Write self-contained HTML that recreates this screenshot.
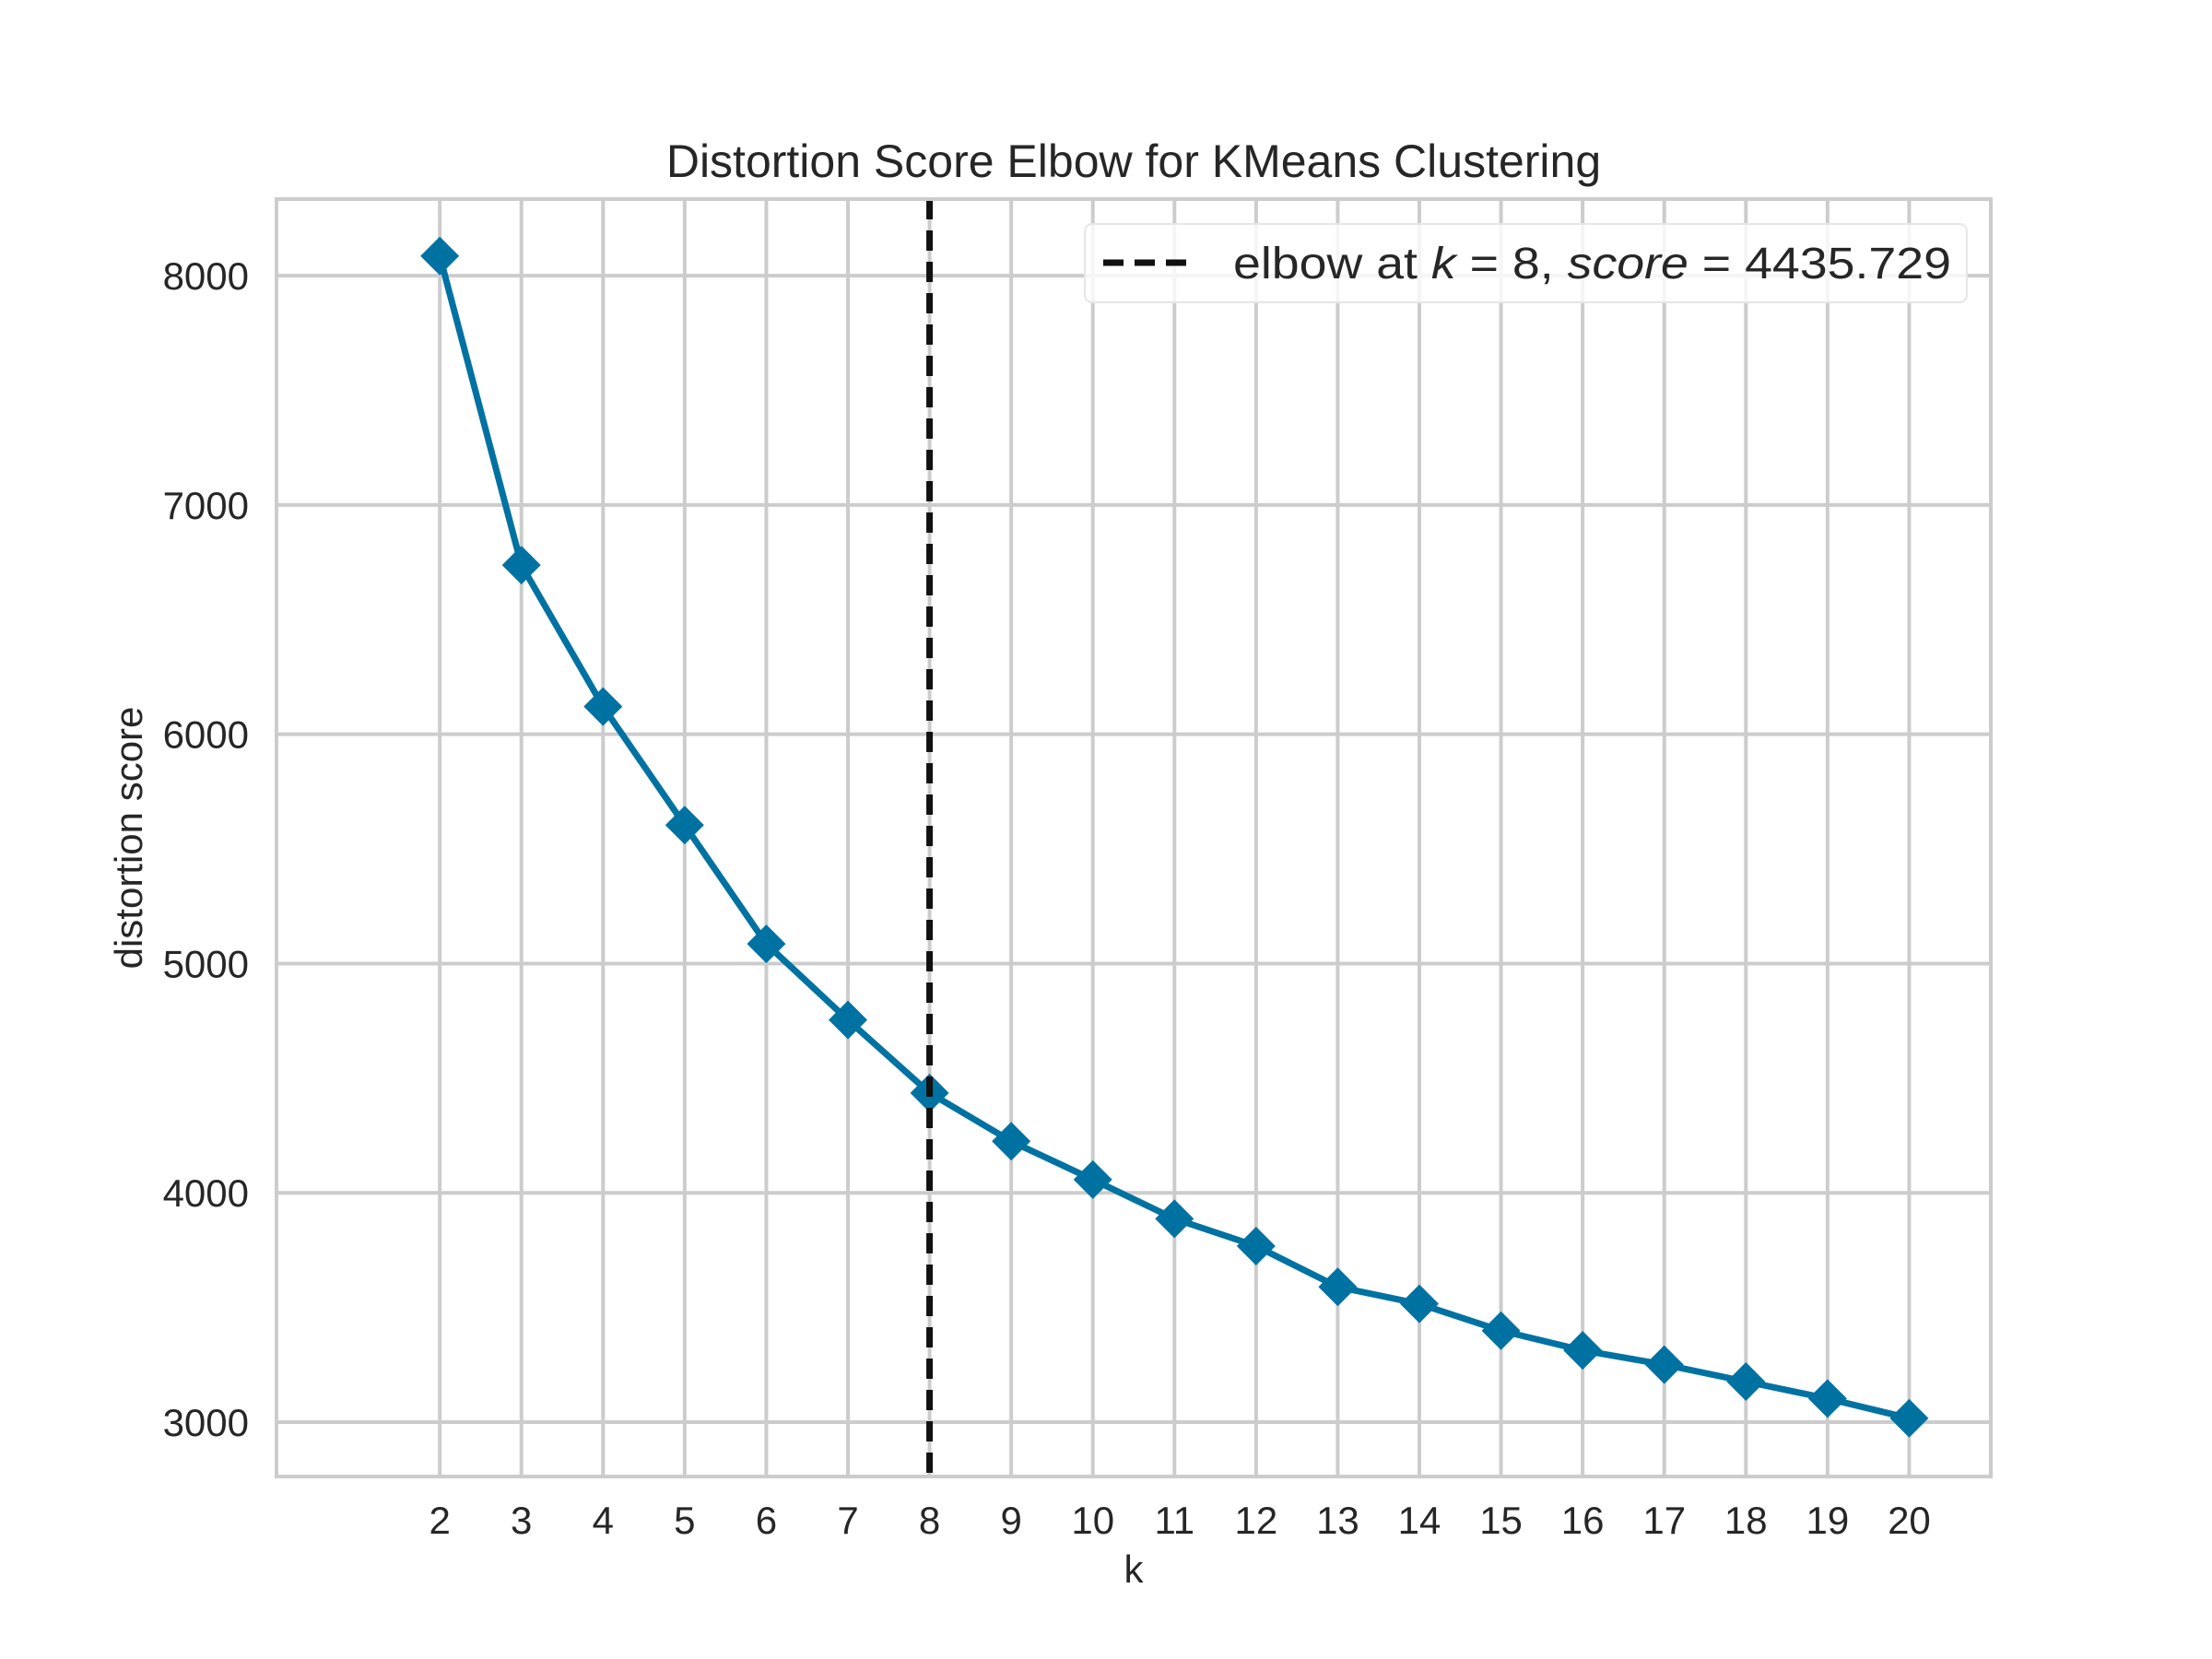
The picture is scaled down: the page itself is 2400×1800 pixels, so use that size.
<!DOCTYPE html>
<html><head><meta charset="utf-8"><style>
html,body{margin:0;padding:0;background:#fff;}
svg{display:block;font-family:"Liberation Sans",Arial,sans-serif;}
</style></head><body>
<svg id="chart" width="2400" height="1800" viewBox="0 0 2400 1800" xmlns="http://www.w3.org/2000/svg">
<rect width="2400" height="1800" fill="#fff"/>
<g id="grid"></g>
<g id="xticks"></g>
<g id="yticks"></g>
<g id="series"></g>
<rect x="300" y="216" width="1860" height="1386" fill="none" stroke="#cccccc" stroke-width="4"/>
<text x="1230" y="192" text-anchor="middle" font-size="50" fill="#262626">Distortion Score Elbow for KMeans Clustering</text>
<text x="1230" y="1717" text-anchor="middle" font-size="42" fill="#262626">k</text>
<text transform="translate(154,909) rotate(-90)" text-anchor="middle" font-size="42" fill="#262626">distortion score</text>
<g>
<rect x="1177" y="243" width="957" height="85" rx="8" fill="#fff" fill-opacity="0.8" stroke="#e6e6e6" stroke-width="2"/>
<line x1="1197" y1="285" x2="1298" y2="285" stroke="#111" stroke-width="7" stroke-dasharray="22,12"/>
<text x="1338" y="302" font-size="48" fill="#262626" textLength="779" lengthAdjust="spacingAndGlyphs">elbow at <tspan font-style="italic">k</tspan> = 8, <tspan font-style="italic">score</tspan> = 4435.729</text>
</g>
</svg>
<script>
const kValues = [2,3,4,5,6,7,8,9,10,11,12,13,14,15,16,17,18,19,20];
const scores = [8086,6738,6121,5604,5086,4754,4435.729,4225,4058,3887,3768,3590,3516,3399,3313,3251,3177,3103,3017];
const yTickValues = [3000,4000,5000,6000,7000,8000];
const elbowK = 8;
const NS = "http://www.w3.org/2000/svg";
const L=300,R=2160,T=216,B=1602;
const xMin=0,xMax=21,yMin=2763,yMax=8334;
function xs(v){return L+(v-xMin)/(xMax-xMin)*(R-L);}
function ys(v){return B-(v-yMin)/(yMax-yMin)*(B-T);}
function mk(tag,attrs,parent){const e=document.createElementNS(NS,tag);for(const k in attrs)e.setAttribute(k,attrs[k]);parent.appendChild(e);return e;}
const grid=document.getElementById('grid'),xt=document.getElementById('xticks'),yt=document.getElementById('yticks'),ser=document.getElementById('series');
kValues.forEach(k=>{
  const l=mk('line',{x1:xs(k),x2:xs(k),y1:T,y2:B,stroke:'#cccccc','stroke-width':4},grid);
  
  
  const t=mk('text',{x:xs(k),y:1664,'text-anchor':'middle','font-size':42,fill:'#262626'},xt);
  t.textContent=k;
  
  
});
yTickValues.forEach(v=>{
  const l=mk('line',{x1:L,x2:R,y1:ys(v),y2:ys(v),stroke:'#cccccc','stroke-width':4},grid);
  
  
  const t=mk('text',{x:270,y:ys(v)+15,'text-anchor':'end','font-size':42,fill:'#262626'},yt);
  t.textContent=v;
  
  
});
const pts=kValues.map((k,i)=>xs(k)+','+ys(scores[i])).join(' ');
const pl=mk('polyline',{points:pts,fill:'none',stroke:'#0072a2','stroke-width':7,'stroke-linejoin':'round'},ser);


kValues.forEach((k,i)=>{
  const cx=xs(k),cy=ys(scores[i]),r=21;
  const p=mk('polygon',{points:`${cx},${cy-r} ${cx+r},${cy} ${cx},${cy+r} ${cx-r},${cy}`,fill:'#0072a2'},ser);
  
  
});
const el=mk('line',{x1:xs(elbowK),x2:xs(elbowK),y1:T,y2:B,stroke:'#111','stroke-width':7,'stroke-dasharray':'22,12'},ser);


</script>
</body></html>
